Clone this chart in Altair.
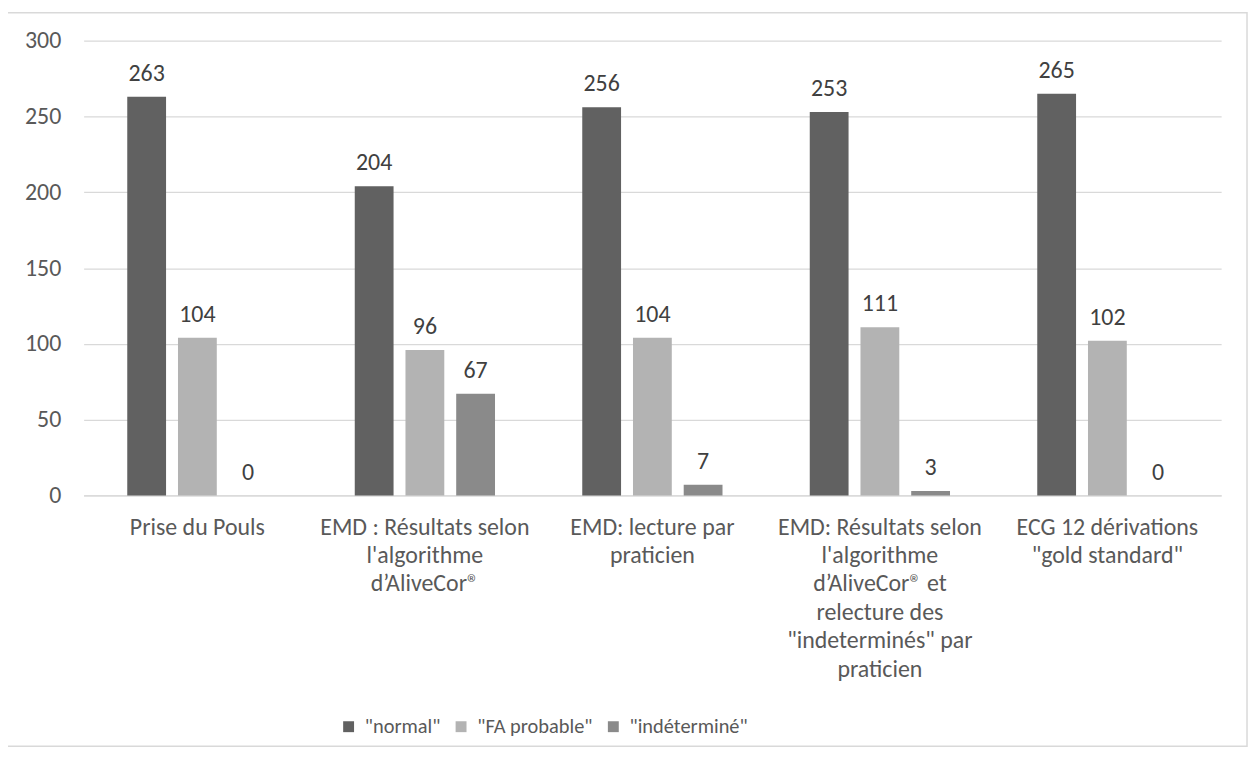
import altair as alt
import pandas as pd

categories = [
    "Prise du Pouls",
    "EMD : Résultats selon\nl'algorithme\nd’AliveCor®",
    "EMD: lecture par\npraticien",
    "EMD: Résultats selon\nl'algorithme\nd’AliveCor®   et\nrelecture des\n\"indeterminés\" par\npraticien",
    "ECG 12 dérivations\n\"gold standard\"",
]
series = ['"normal"', '"FA probable"', '"indéterminé"']
normal_vals = [263, 204, 256, 253, 265]
fa_vals = [104, 96, 104, 111, 102]
indet_vals = [0, 67, 7, 3, 0]
colors = ["#616161", "#b3b3b3", "#8a8a8a"]
y_ticks = [0, 50, 100, 150, 200, 250, 300]

rows = []
for s, vals in zip(series, [normal_vals, fa_vals, indet_vals]):
    for c, v in zip(categories, vals):
        rows.append({"cat": c, "serie": s, "val": v})
df = pd.DataFrame(rows)

FONT = "Carlito, Calibri, Open Sans"
TXT = "#404040"
AX = "#595959"
GRID = "#d9d9d9"
FS = 24

x_enc = alt.X(
    "cat:N",
    sort=categories,
    scale=alt.Scale(paddingInner=0, paddingOuter=0),
    axis=alt.Axis(
        title=None,
        labelAngle=0,
        labelExpr="split(datum.label, '\\n')",
        labelLineHeight=28.5,
        labelPadding=20,
        labelLimit=0,
        ticks=False,
        domainColor=GRID,
        domainWidth=1.3,
        labelFontSize=FS,
        labelColor=AX,
        labelFont=FONT,
    ),
)
xoff = alt.XOffset(
    "serie:N",
    sort=series,
    scale=alt.Scale(paddingInner=0.235, paddingOuter=0.86),
)
y_enc = alt.Y(
    "val:Q",
    scale=alt.Scale(domain=[0, 300], nice=False),
    axis=alt.Axis(
        title=None,
        values=y_ticks,
        domain=False,
        ticks=False,
        gridColor=GRID,
        gridWidth=1.3,
        labelPadding=23,
        labelFontSize=FS,
        labelColor=AX,
        labelFont=FONT,
    ),
)

bars = alt.Chart(df).mark_bar().encode(
    x=x_enc,
    xOffset=xoff,
    y=y_enc,
    color=alt.Color(
        "serie:N",
        sort=series,
        scale=alt.Scale(domain=series, range=colors),
        legend=alt.Legend(
            title=None,
            orient="none",
            direction="horizontal",
            legendX=256,
            legendY=679,
            padding=0,
            symbolType="square",
            symbolSize=120,
            symbolStrokeWidth=0,
            labelFontSize=20.5,
            labelColor=AX,
            labelFont=FONT,
            labelOffset=6,
            columnPadding=10,
        ),
    ),
)

labels = alt.Chart(df).mark_text(
    baseline="alphabetic", dy=-16, fontSize=FS, color=TXT, font=FONT
).encode(
    x=alt.X("cat:N", sort=categories),
    xOffset=alt.XOffset("serie:N", sort=series),
    y="val:Q",
    text="val:Q",
)

frame = alt.Chart(pd.DataFrame({"a": [0]})).mark_rect(
    fillOpacity=0, stroke=GRID, strokeWidth=1.5
).encode(
    x=alt.value(-77), x2=alt.value(1169), y=alt.value(-28), y2=alt.value(709)
)

chart = (
    alt.layer(frame, bars, labels)
    .properties(
        width=1143,
        height=457,
        autosize=alt.AutoSizeParams(type="none"),
        padding={"left": 76, "top": 31, "right": 28, "bottom": 256},
    )
    .configure_view(strokeWidth=0)
)

chart.save("out.html", embed_options={"renderer": "svg", "actions": False})
